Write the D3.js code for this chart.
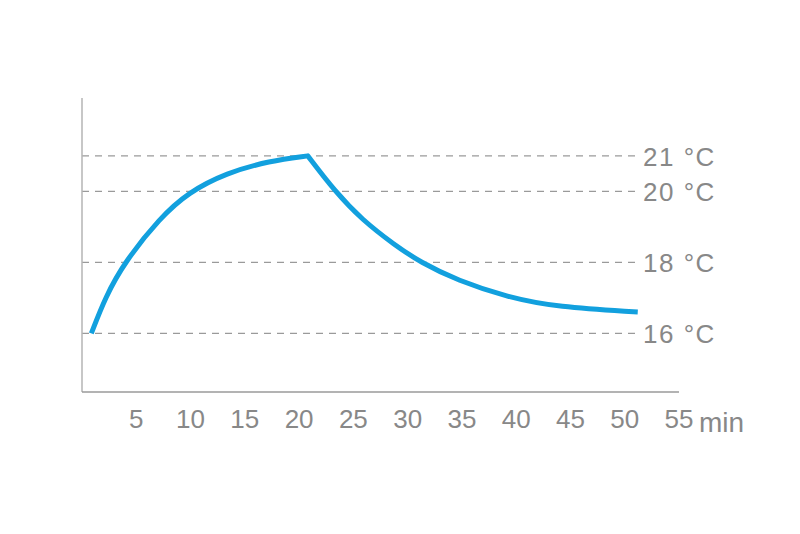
<!DOCTYPE html>
<html>
<head>
<meta charset="utf-8">
<script src="https://cdn.jsdelivr.net/npm/d3@7"></script>
<style>
  body { margin: 0; background: #fff; }
  text { font-family: "Liberation Sans", Arial, sans-serif; fill: #888888; }
</style>
</head>
<body>
<div id="chart"></div>
<script>
// heating phase (minutes, °C)
var riseMin = [0.86, 2.15, 3.9, 7.2, 9.8, 13.3, 17.3, 20.8];
var riseTemp = [16.0, 17.02, 18.0, 19.26, 19.97, 20.52, 20.86, 21.0];
// cooling phase
var fallMin = [20.8, 23.3, 25.8, 28.8, 31.2, 34.6, 39.2, 43.8, 51.2];
var fallTemp = [21.0, 20.0, 19.2, 18.49, 18.0, 17.49, 17.02, 16.74, 16.6];

var xTicks = [5, 10, 15, 20, 25, 30, 35, 40, 45, 50, 55];
var yTicks = [16, 18, 20, 21];

var width = 800,
  height = 534;

var svg = d3
  .select("#chart")
  .append("svg")
  .attr("width", width)
  .attr("height", height);

var x = d3.scaleLinear().domain([0, 55]).range([82, 679]);
var y = d3.scaleLinear().domain([14.35, 22.63]).range([392, 98]);

// dashed reference lines
svg
  .selectAll(".grid")
  .data(yTicks)
  .enter()
  .append("line")
  .attr("class", "grid")
  .attr("x1", x(0))
  .attr("x2", 641)
  .attr("y1", d => y(d))
  .attr("y2", d => y(d))
  .attr("stroke", "#9a9a9a")
  .attr("stroke-width", 1.3)
  .attr("stroke-dasharray", "7,6");

svg
  .selectAll(".ylabel")
  .data(yTicks)
  .enter()
  .append("text")
  .attr("class", "ylabel")
  .attr("x", 643)
  .attr("y", d => y(d) + 10)
  .style("font-size", "26px")
  .style("letter-spacing", "1.5px")
  .text(d => d + "\u00a0°C");

// axes
svg
  .append("line")
  .attr("x1", x(0))
  .attr("x2", x(0))
  .attr("y1", y.range()[1])
  .attr("y2", y.range()[0])
  .attr("stroke", "#b5b5b5")
  .attr("stroke-width", 1.5);

svg
  .append("line")
  .attr("x1", x(0))
  .attr("x2", x(55))
  .attr("y1", y.range()[0])
  .attr("y2", y.range()[0])
  .attr("stroke", "#9a9a9a")
  .attr("stroke-width", 1.5);

svg
  .selectAll(".xlabel")
  .data(xTicks)
  .enter()
  .append("text")
  .attr("class", "xlabel")
  .attr("x", d => x(d))
  .attr("y", 428)
  .style("font-size", "26px")
  .style("text-anchor", "middle")
  .text(d => d);

svg
  .append("text")
  .attr("x", 699)
  .attr("y", 432)
  .style("font-size", "28px")
  .text("min");

// temperature curve
var line = d3
  .line()
  .x(d => x(d[0]))
  .y(d => y(d[1]))
  .curve(d3.curveBasis);

var rise = d3.zip(riseMin, riseTemp);
var fall = d3.zip(fallMin, fallTemp);

svg
  .append("path")
  .attr("d", line(rise) + line(fall).replace("M", "L"))
  .attr("fill", "none")
  .attr("stroke", "#12a0de")
  .attr("stroke-width", 5)
  .attr("stroke-linejoin", "round");
</script>
</body>
</html>
